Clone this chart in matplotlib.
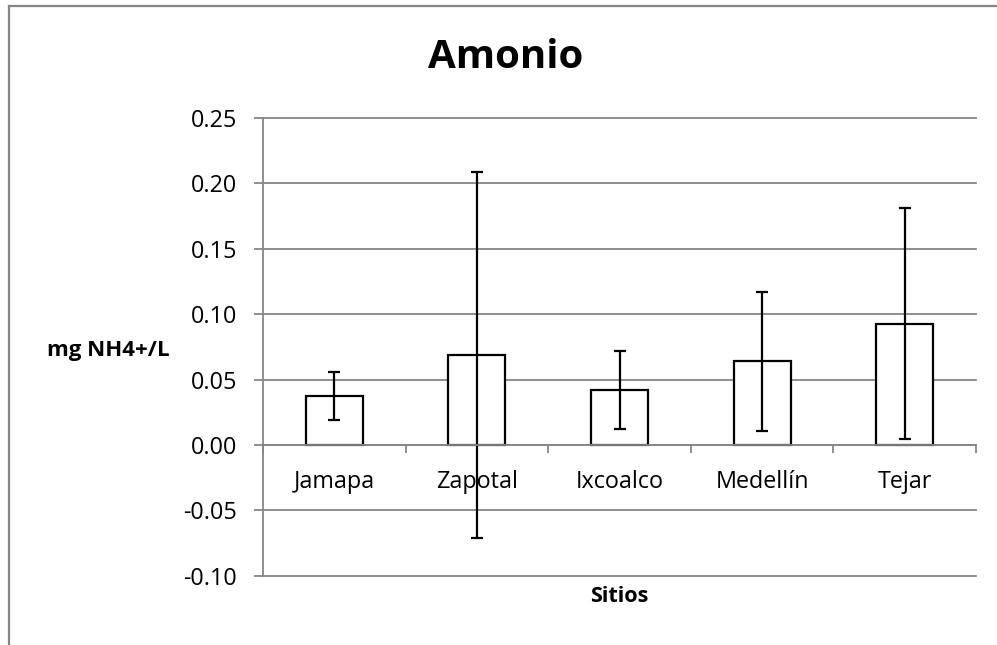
import matplotlib
matplotlib.use("Agg")
import matplotlib.pyplot as plt
import numpy as np
from matplotlib.lines import Line2D

sitios = ["Jamapa", "Zapotal", "Ixcoalco", "Medellín", "Tejar"]
amonio = [0.0372, 0.0686, 0.0421, 0.0640, 0.0928]
error = [0.0182, 0.1400, 0.0296, 0.0531, 0.0880]
yticks = [-0.10, -0.05, 0.00, 0.05, 0.10, 0.15, 0.20, 0.25]

plt.rcParams['font.family'] = ['Open Sans', 'DejaVu Sans']

fig = plt.figure(figsize=(9.97, 6.45), dpi=100)
ax = fig.add_axes([263/997, 1-575.7/645, 713/997, (575.7-118)/645])

grid_c = '#868686'
x = np.arange(len(sitios))
ax.bar(x, amonio, width=0.4, color='white', edgecolor='black', linewidth=1.6, zorder=3)
ax.errorbar(x, amonio, yerr=error, fmt='none', ecolor='black', elinewidth=1.6,
            capsize=4.5, capthick=1.6, zorder=4)

ax.set_ylim(-0.10, 0.25)
ax.set_xlim(-0.5, len(sitios)-0.5)
ax.set_yticks(yticks)
ax.set_yticklabels([f"{v:.2f}" for v in yticks], fontsize=16.8)
for v in yticks:
    ax.axhline(v, color=grid_c, linewidth=1.3, zorder=1, clip_on=False)

for s in ['top', 'right']:
    ax.spines[s].set_visible(False)
ax.spines['left'].set_color(grid_c)
ax.spines['left'].set_linewidth(1.3)
ax.spines['bottom'].set_position(('data', 0))
ax.spines['bottom'].set_color(grid_c)
ax.spines['bottom'].set_linewidth(1.3)
ax.spines['bottom'].set_zorder(5)

ax.tick_params(axis='y', length=6.5, width=1.3, color=grid_c, pad=12)
ax.set_xticks(np.arange(len(sitios)+1) - 0.5)
ax.set_xticklabels([])
ax.set_xticks(x, minor=True)
ax.set_xticklabels(sitios, minor=True, fontsize=16.8)
ax.tick_params(axis='x', which='major', length=6, width=1.3, color=grid_c)
ax.tick_params(axis='x', which='minor', length=0, pad=18)

ax.text(-0.2163, 0.493, "mg NH4+/L", transform=ax.transAxes, ha='center', va='center',
        fontsize=16, fontweight='bold')
ax.text(0.5, -0.046, "Sitios", transform=ax.transAxes, ha='center', va='center',
        fontsize=15.6, fontweight='bold')
fig.text(505.8/997, 1-57.5/645, "Amonio", ha='center', va='center', fontsize=29, fontweight='bold')

fig.add_artist(Line2D([8.9/997, 8.9/997], [0, 1-5.8/645], transform=fig.transFigure,
                      color=grid_c, linewidth=1.6))
fig.add_artist(Line2D([8.9/997, 1], [1-5.8/645, 1-5.8/645], transform=fig.transFigure,
                      color=grid_c, linewidth=1.6))

fig.savefig("out.png", dpi=100)
